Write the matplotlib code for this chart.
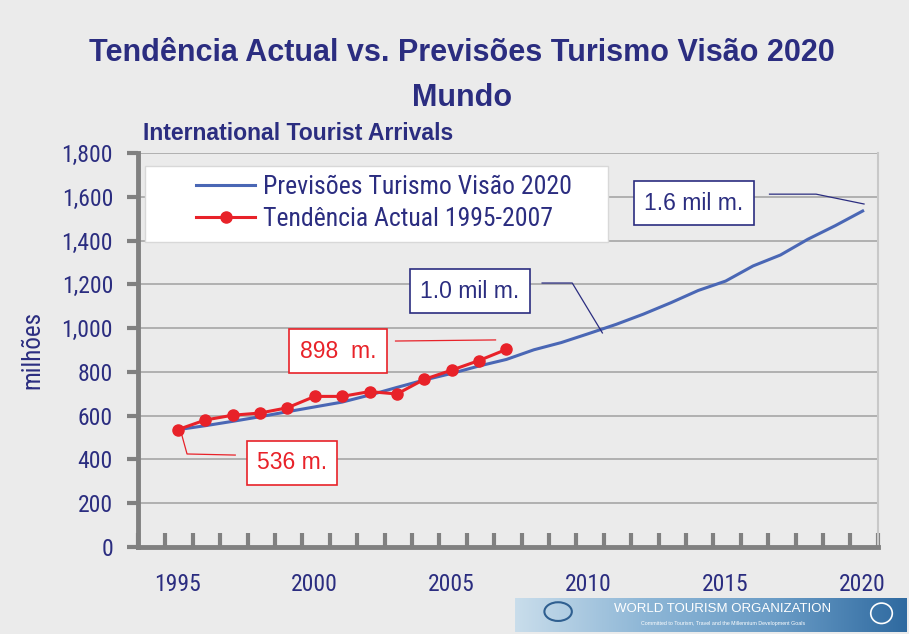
import matplotlib.pyplot as plt
from matplotlib.patches import Rectangle, Ellipse
import numpy as np

# data
years_fc = np.arange(1995, 2021)
forecast = [536, 554, 574, 595, 618, 640, 662, 694, 729, 763, 793, 827, 857,
            901, 934, 975, 1017, 1064, 1116, 1172, 1215, 1284, 1334, 1406, 1468, 1535]
years_act = np.arange(1995, 2008)
actual = [536, 580, 602, 612, 636, 688, 688, 710, 699, 766, 808, 852, 903]
xtick_years = [1995, 2000, 2005, 2010, 2015, 2020]
yticks = np.arange(0, 1801, 200)

navy = '#2B2D80'
blue = '#4A67B5'
red = '#E82229'
bg = '#EBEBEB'
narrow = ['Roboto Condensed', 'Archivo Narrow', 'Liberation Sans', 'DejaVu Sans']
arial = ['Liberation Sans', 'DejaVu Sans']

fig = plt.figure(figsize=(9.09, 6.34), dpi=100, facecolor=bg)
ax = fig.add_axes([138/909, 87/634, 740/909, 394/634], facecolor=bg)

# grid
for v in yticks[1:]:
    ax.axhline(v, color='#A6A6A6', lw=1.2, zorder=1)

# lines
ax.plot(years_fc, forecast, color=blue, lw=2.2, zorder=3, label='Previsões Turismo Visão 2020')
ax.plot(years_act, actual, color=red, lw=2.2, marker='o', markersize=8, zorder=4,
        label='Tendência Actual 1995-2007')

ax.set_xlim(1993.55, 2020.56)
ax.set_ylim(0, 1800)

# axes style
ax.spines['top'].set_visible(False)
ax.spines['right'].set_color('#C8C8C8')
ax.spines['right'].set_linewidth(1.5)
ax.spines['left'].set_color('#808080')
ax.spines['left'].set_linewidth(3.5)
ax.spines['bottom'].set_color('#808080')
ax.spines['bottom'].set_linewidth(3.5)

ax.set_yticks(yticks)
ax.set_yticklabels([f'{v:,}' for v in yticks], fontsize=17, color=navy, family=narrow)
ax.tick_params(axis='y', length=8, width=3, color='#808080', pad=10, direction='out')

ax.set_xticks(np.arange(1993.55, 2020.6, 1.0), minor=True)
ax.set_xticks(xtick_years)
ax.set_xticklabels([str(y) for y in xtick_years], fontsize=17, color=navy, family=narrow)
ax.tick_params(axis='x', which='major', length=0, pad=19)
ax.tick_params(axis='x', which='minor', length=10, width=3, color='#808080', direction='in')

ax.set_ylabel('milhões', fontsize=18, color=navy, family=narrow, labelpad=12)

# legend: white panel + entries
ax.add_patch(Rectangle((7/740, 1 - 89/394), 463/740, 76/394, transform=ax.transAxes,
                       fc='white', ec='#D8D8D8', lw=1, zorder=5))
leg = ax.legend(loc='upper left', bbox_to_anchor=(58/740, 1 - 22/394), frameon=False,
                prop={'family': narrow, 'size': 18.5}, labelcolor=navy,
                handlelength=2.3, handletextpad=0.3, borderpad=0, labelspacing=0.3,
                borderaxespad=0)
leg.set_zorder(6)

# annotations
def label_box(x, y, txt, col):
    ax.text(x, y, txt, ha='center', va='center', fontsize=16.5, color=col, zorder=6,
            family=arial,
            bbox=dict(boxstyle='square,pad=0.45', fc='white', ec=col, lw=1.2))

label_box(2013.84, 1571, '1.6 mil m.', navy)
ax.plot([2016.6, 2018.3, 2020.05], [1612, 1612, 1567], color=navy, lw=0.9, zorder=5)
label_box(2005.67, 1169, '1.0 mil m.', navy)
ax.plot([2008.3, 2009.4, 2010.5], [1206, 1206, 978], color=navy, lw=0.9, zorder=5)
label_box(2000.85, 895, '898  m.', red)
ax.plot([2002.95, 2006.6], [941, 946], color=red, lw=0.9, zorder=5)
label_box(1999.17, 384, '536 m.', red)
ax.plot([1995.1, 1995.34, 1997.1], [534, 425, 420], color=red, lw=0.9, zorder=5)

# titles
fig.text(0.508, 1 - 53/634, 'Tendência Actual vs. Previsões Turismo Visão 2020', ha='center', va='center',
         fontsize=22, fontweight='bold', color=navy, family=arial)
fig.text(0.508, 1 - 98/634, 'Mundo', ha='center', va='center',
         fontsize=22, fontweight='bold', color=navy, family=arial)
fig.text(143/909, 1 - 134/634, 'International Tourist Arrivals', ha='left', va='center',
         fontsize=16.6, fontweight='bold', color=navy, family=arial)

# logo banner
lax = fig.add_axes([515/909, 2/634, 392/909, 34/634])
grad = np.linspace(0, 1, 256).reshape(1, -1)
lax.imshow(grad, aspect='auto', cmap=plt.matplotlib.colors.LinearSegmentedColormap.from_list(
    'wto', ['#C9DDEB', '#8DB6D6', '#6A9CC6', '#2F6AA0']), extent=[0, 1, 0, 1])
lax.set_xlim(0, 1)
lax.set_ylim(0, 1)
lax.set_axis_off()
lax.add_patch(Ellipse((0.11, 0.6), 0.07, 0.55, fc='none', ec='#2F5F90', lw=1.5))
lax.add_patch(Ellipse((0.935, 0.55), 0.055, 0.6, fc='none', ec='white', lw=1.2))
lax.text(0.53, 0.68, 'WORLD TOURISM ORGANIZATION', ha='center', va='center',
         fontsize=9.5, color='white', family=arial)
lax.text(0.53, 0.25, 'Committed to Tourism, Travel and the Millennium Development Goals',
         ha='center', va='center', fontsize=3.8, color='white', family=arial)

fig.savefig('out.png', dpi=100, facecolor=bg)
